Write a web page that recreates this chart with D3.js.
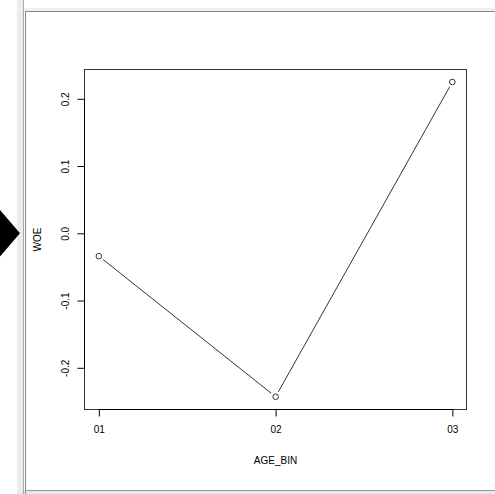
<!DOCTYPE html>
<html>
<head>
<meta charset="utf-8">
<script src="https://cdn.jsdelivr.net/npm/d3@7"></script>
<style>
  html, body { margin: 0; padding: 0; background: #fff; }
  svg { display: block; }
  text { font-family: "Liberation Sans", Arial, Helvetica, sans-serif; fill: #000; }
</style>
</head>
<body>
<svg id="chart" width="495" height="494"></svg>
<script>
// ---- data ----
const categories = ["01", "02", "03"];
const woeValues = [-0.034, -0.243, 0.225];
const yTickValues = [-0.2, -0.1, 0.0, 0.1, 0.2];
const yTickLabels = ["-0.2", "-0.1", "0.0", "0.1", "0.2"];
const xLabel = "AGE_BIN";
const yLabel = "WOE";

(function () {
const svg = d3.select("#chart");

// ---- surrounding UI frame ----
svg.append("rect").attr("x", 17).attr("y", 0).attr("width", 6).attr("height", 494).attr("fill", "#ececec");
svg.append("rect").attr("x", 17).attr("y", 8).attr("width", 478).attr("height", 3).attr("fill", "#f0f0f0");
svg.append("rect").attr("x", 17).attr("y", 491).attr("width", 478).attr("height", 3).attr("fill", "#e8e8e8");
svg.append("line").attr("x1", 23.5).attr("x2", 23.5).attr("y1", 0).attr("y2", 494).attr("stroke", "#a8a8a8");
svg.append("line").attr("x1", 25.5).attr("x2", 25.5).attr("y1", 11).attr("y2", 494).attr("stroke", "#8a8a8a");
svg.append("line").attr("x1", 25).attr("x2", 495).attr("y1", 11.5).attr("y2", 11.5).attr("stroke", "#8a8a8a");
svg.append("line").attr("x1", 25).attr("x2", 495).attr("y1", 490.5).attr("y2", 490.5).attr("stroke", "#9a9a9a");

// black triangle marker on the left
svg.append("path")
  .attr("d", d3.line()([[0, 210], [20, 233.3], [0, 256.5]]) + "Z")
  .attr("fill", "#000");

// ---- scales ----
const idx = categories.map((c, i) => i + 1);
const xPad = (idx[idx.length - 1] - idx[0]) * 0.04;
const x = d3.scaleLinear()
  .domain([idx[0] - xPad, idx[idx.length - 1] + xPad])
  .range([84.7, 466.5]);
const [ymin, ymax] = d3.extent(woeValues);
const yPad = (ymax - ymin) * 0.04;
const y = d3.scaleLinear()
  .domain([ymin - yPad, ymax + yPad])
  .range([409.3, 69.4]);

const bLeft = 84.5, bRight = 466.5, bTop = 69.5, bBottom = 409.5;

// ---- plot box ----
svg.append("rect")
  .attr("x", bLeft).attr("y", bTop)
  .attr("width", bRight - bLeft).attr("height", bBottom - bTop)
  .attr("fill", "none").attr("stroke", "#333").attr("stroke-width", 1);

// ---- axes ----
const xAxis = d3.axisBottom(x)
  .tickValues(idx)
  .tickFormat((d, i) => categories[i])
  .tickSize(7)
  .tickPadding(9);
const gx = svg.append("g").attr("transform", `translate(0,${bBottom})`).call(xAxis);
gx.select(".domain")
  .attr("d", `M${x(idx[0])},0H${x(idx[idx.length - 1])}`)
  .attr("stroke", "#000");
gx.selectAll(".tick line").attr("stroke", "#000");
gx.selectAll(".tick text")
  .style("font-family", "'Liberation Sans', Arial, sans-serif")
  .style("font-size", "10px").attr("fill", "#000");

const yAxis = d3.axisLeft(y)
  .tickValues(yTickValues)
  .tickFormat((d, i) => yTickLabels[i])
  .tickSize(7)
  .tickPadding(0);
const gy = svg.append("g").attr("transform", `translate(${bLeft},0)`).call(yAxis);
gy.select(".domain")
  .attr("d", `M0,${y(yTickValues[0])}V${y(yTickValues[yTickValues.length - 1])}`)
  .attr("stroke", "#000");
gy.selectAll(".tick line").attr("stroke", "#000");
gy.selectAll(".tick text")
  .style("font-family", "'Liberation Sans', Arial, sans-serif")
  .style("font-size", "10px").attr("fill", "#000")
  .attr("text-anchor", "middle")
  .attr("dy", null)
  .attr("x", null)
  .attr("transform", "translate(-15.5,0) rotate(-90)");

// axis titles
svg.append("text")
  .attr("x", (bLeft + bRight) / 2).attr("y", 463.5)
  .attr("text-anchor", "middle")
  .style("font-size", "10px")
  .text(xLabel);
svg.append("text")
  .attr("transform", `translate(40.5,${(bTop + bBottom) / 2}) rotate(-90)`)
  .attr("text-anchor", "middle")
  .style("font-size", "10px")
  .text(yLabel);

// ---- line with gaps (type = "b") ----
const pts = woeValues.map((v, i) => [x(idx[i]), y(v)]);
const gap = 5.5;
const segs = [];
for (let i = 0; i < pts.length - 1; i++) {
  const [x1, y1] = pts[i], [x2, y2] = pts[i + 1];
  const len = Math.hypot(x2 - x1, y2 - y1);
  const ux = (x2 - x1) / len, uy = (y2 - y1) / len;
  segs.push([[x1 + ux * gap, y1 + uy * gap], [x2 - ux * gap, y2 - uy * gap]]);
}
svg.append("g").selectAll("path").data(segs).join("path")
  .attr("d", d => d3.line()(d))
  .attr("fill", "none").attr("stroke", "#333").attr("stroke-width", 1);

svg.append("g").selectAll("circle").data(woeValues).join("circle")
  .attr("cx", (d, i) => x(idx[i]))
  .attr("cy", d => y(d))
  .attr("r", 2.8)
  .attr("fill", "none").attr("stroke", "#333").attr("stroke-width", 1);
})();
</script>
</body>
</html>
